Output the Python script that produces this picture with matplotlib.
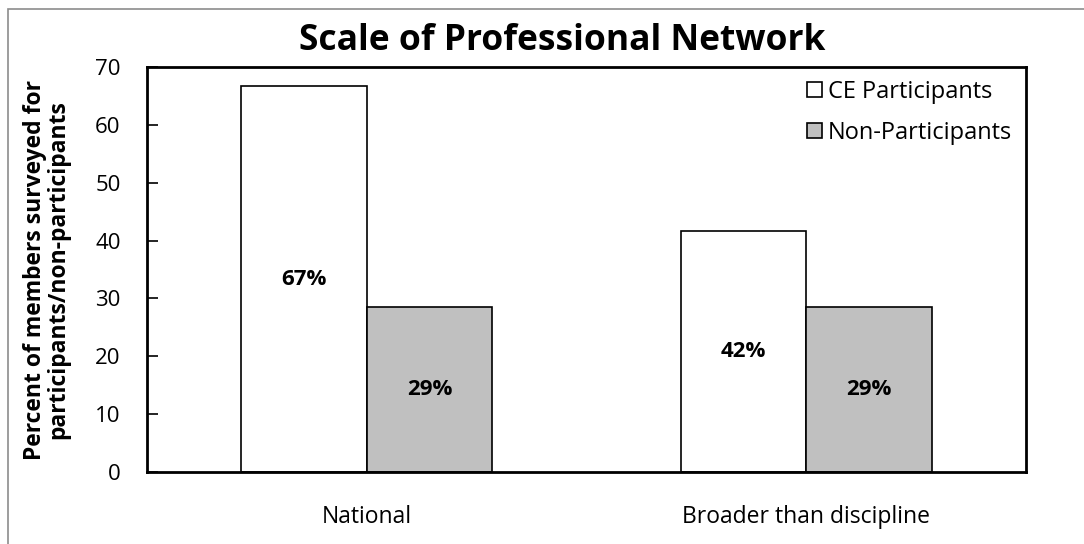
import numpy as np
import matplotlib.pyplot as plt
from matplotlib.patches import Rectangle

plt.rcParams['font.family'] = ['Open Sans', 'DejaVu Sans']

categories = ['National', 'Broader than discipline']
ce_participants = [66.7, 41.7]
non_participants = [28.6, 28.6]
ce_labels = ['67%', '42%']
non_labels = ['29%', '29%']

fig = plt.figure(figsize=(10.84, 5.44), dpi=100)
ax = fig.add_axes([147/1084, 1-472/544, (1026-147)/1084, (472-67)/544])

# thin grey chart border (only top/left fall inside the image)
fig.patches.append(Rectangle((8/1084, -0.2), 1.2, 1.2 - 9/544,
                             transform=fig.transFigure, fill=False,
                             edgecolor='#8c8c8c', linewidth=1.2))

x = np.arange(len(categories))
w = 0.2857
b1 = ax.bar(x - w/2, ce_participants, w, color='white', edgecolor='black',
            linewidth=1.2, label='CE Participants')
b2 = ax.bar(x + w/2, non_participants, w, color='#c0c0c0', edgecolor='black',
            linewidth=1.2, label='Non-Participants')

for bars, labs in ((b1, ce_labels), (b2, non_labels)):
    for rect, lab in zip(bars, labs):
        ax.text(rect.get_x() + rect.get_width()/2, rect.get_height()/2, lab,
                ha='center', va='center', fontsize=16, fontweight='bold')

ax.set_xlim(-0.5, 1.5)
ax.set_ylim(0, 70)
ax.set_yticks(range(0, 71, 10))
ax.set_xticks(x)
ax.set_xticklabels(categories)
ax.tick_params(axis='y', direction='in', length=8, width=1.2, labelsize=16, pad=19)
ax.tick_params(axis='x', length=0, labelsize=16.5, pad=24)
for s in ax.spines.values():
    s.set_linewidth(2)

ax.set_ylabel('Percent of members surveyed for\nparticipants/non-participants',
              fontsize=16.5, fontweight='bold', labelpad=18, linespacing=0.95)
fig.text(562/1084, 1-41/544, 'Scale of Professional Network', fontsize=25.5,
         fontweight='bold', ha='center', va='center')

leg = ax.legend(loc='upper right', frameon=False, fontsize=17,
                handlelength=0.6, handleheight=0.6, handletextpad=0.25,
                labelspacing=0.7, bbox_to_anchor=(1.008, 1.02))

fig.savefig('out.png', dpi=100)
